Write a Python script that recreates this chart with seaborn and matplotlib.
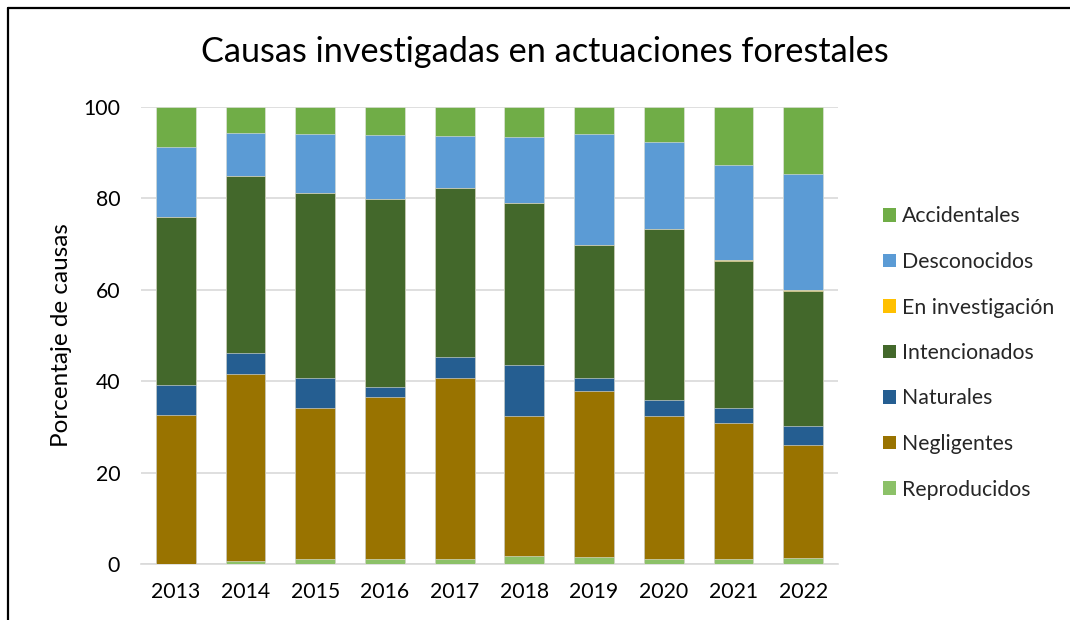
import numpy as np
import pandas as pd
import matplotlib
matplotlib.use("Agg")
import matplotlib.pyplot as plt
from matplotlib.lines import Line2D
import seaborn as sns

years = ["2013", "2014", "2015", "2016", "2017", "2018", "2019", "2020", "2021", "2022"]
reproducidos = [0.1, 0.6, 1.1, 1.2, 1.2, 1.8, 1.5, 1.1, 1.2, 1.4]
negligentes = [32.5, 40.9, 33.1, 35.4, 39.4, 30.6, 36.4, 31.3, 29.7, 24.6]
naturales = [6.5, 4.6, 6.6, 2.1, 4.8, 11.1, 2.9, 3.4, 3.3, 4.1]
intencionados = [36.8, 38.7, 40.4, 41.2, 36.8, 35.6, 29.1, 37.4, 32.0, 29.6]
en_investigacion = [0.0, 0.0, 0.0, 0.0, 0.0, 0.0, 0.0, 0.0, 0.3, 0.3]
desconocidos = [15.3, 9.5, 12.8, 14.0, 11.5, 14.3, 24.2, 19.1, 20.8, 25.3]
accidentales = [8.8, 5.7, 6.0, 6.1, 6.3, 6.6, 5.9, 7.7, 12.7, 14.7]

series_names = ["Reproducidos", "Negligentes", "Naturales", "Intencionados",
                "En investigación", "Desconocidos", "Accidentales"]
series_vals = [reproducidos, negligentes, naturales, intencionados,
               en_investigacion, desconocidos, accidentales]
colors = ["#8CC168", "#997300", "#255E91", "#43682B", "#FFC000", "#5B9BD5", "#70AD47"]

sns.set_theme(style="white")
plt.rcParams["font.family"] = ["Lato", "DejaVu Sans"]

df = pd.DataFrame({n: v for n, v in zip(series_names, series_vals)}, index=years)
cum = df.cumsum(axis=1)

fig = plt.figure(figsize=(10.7, 6.2), dpi=100)
ax = fig.add_axes([141/1070, 56/620, 697/1070, 457/620])

# draw from top cumulative down so lower segments overlay
for name, col in zip(series_names[::-1], colors[::-1]):
    sns.barplot(x=years, y=cum[name].values, color=col, width=0.57,
                saturation=1, ax=ax, label=name, edgecolor="#e6e6e6",
                linewidth=0.4, zorder=3)

handles, labels = ax.get_legend_handles_labels()
if ax.get_legend() is not None:
    ax.get_legend().remove()

ax.set_ylim(0, 100)
ax.set_xlim(-0.5, 9.5)
ax.set_yticks([0, 20, 40, 60, 80, 100])
ax.yaxis.grid(True, color="#D9D9D9", linewidth=1.2, zorder=0)
ax.set_axisbelow(True)
for s in ["top", "right", "left"]:
    ax.spines[s].set_visible(False)
ax.spines["bottom"].set_color("#D9D9D9")
ax.spines["bottom"].set_linewidth(1.2)
ax.tick_params(axis="both", length=0, labelsize=15.3, colors="black")
ax.tick_params(axis="y", pad=15)
ax.tick_params(axis="x", pad=13)
ax.set_xlabel("")
ax.set_ylabel("Porcentaje de causas", fontsize=17.5, labelpad=8, color="black")

fig.text(545/1070, 1 - 52/620, "Causas investigadas en actuaciones forestales",
         ha="center", va="center", fontsize=24.7, color="black")

leg = fig.legend(handles, labels, loc="center left",
                 bbox_to_anchor=(872/1070, 1 - 353/620), frameon=False,
                 fontsize=15.3, handlelength=0.62, handleheight=0.62,
                 handletextpad=0.3, labelspacing=1.2, borderpad=0)
for h in leg.legend_handles:
    h.set_edgecolor("none")

# outer frame (top and left)
fig.add_artist(Line2D([8/1070, 1.0], [1 - 8/620, 1 - 8/620], color="black", linewidth=1.6,
                      transform=fig.transFigure))
fig.add_artist(Line2D([8/1070, 8/1070], [0, 1 - 8/620], color="black", linewidth=1.6,
                      transform=fig.transFigure))

fig.savefig("out.png", dpi=100)
